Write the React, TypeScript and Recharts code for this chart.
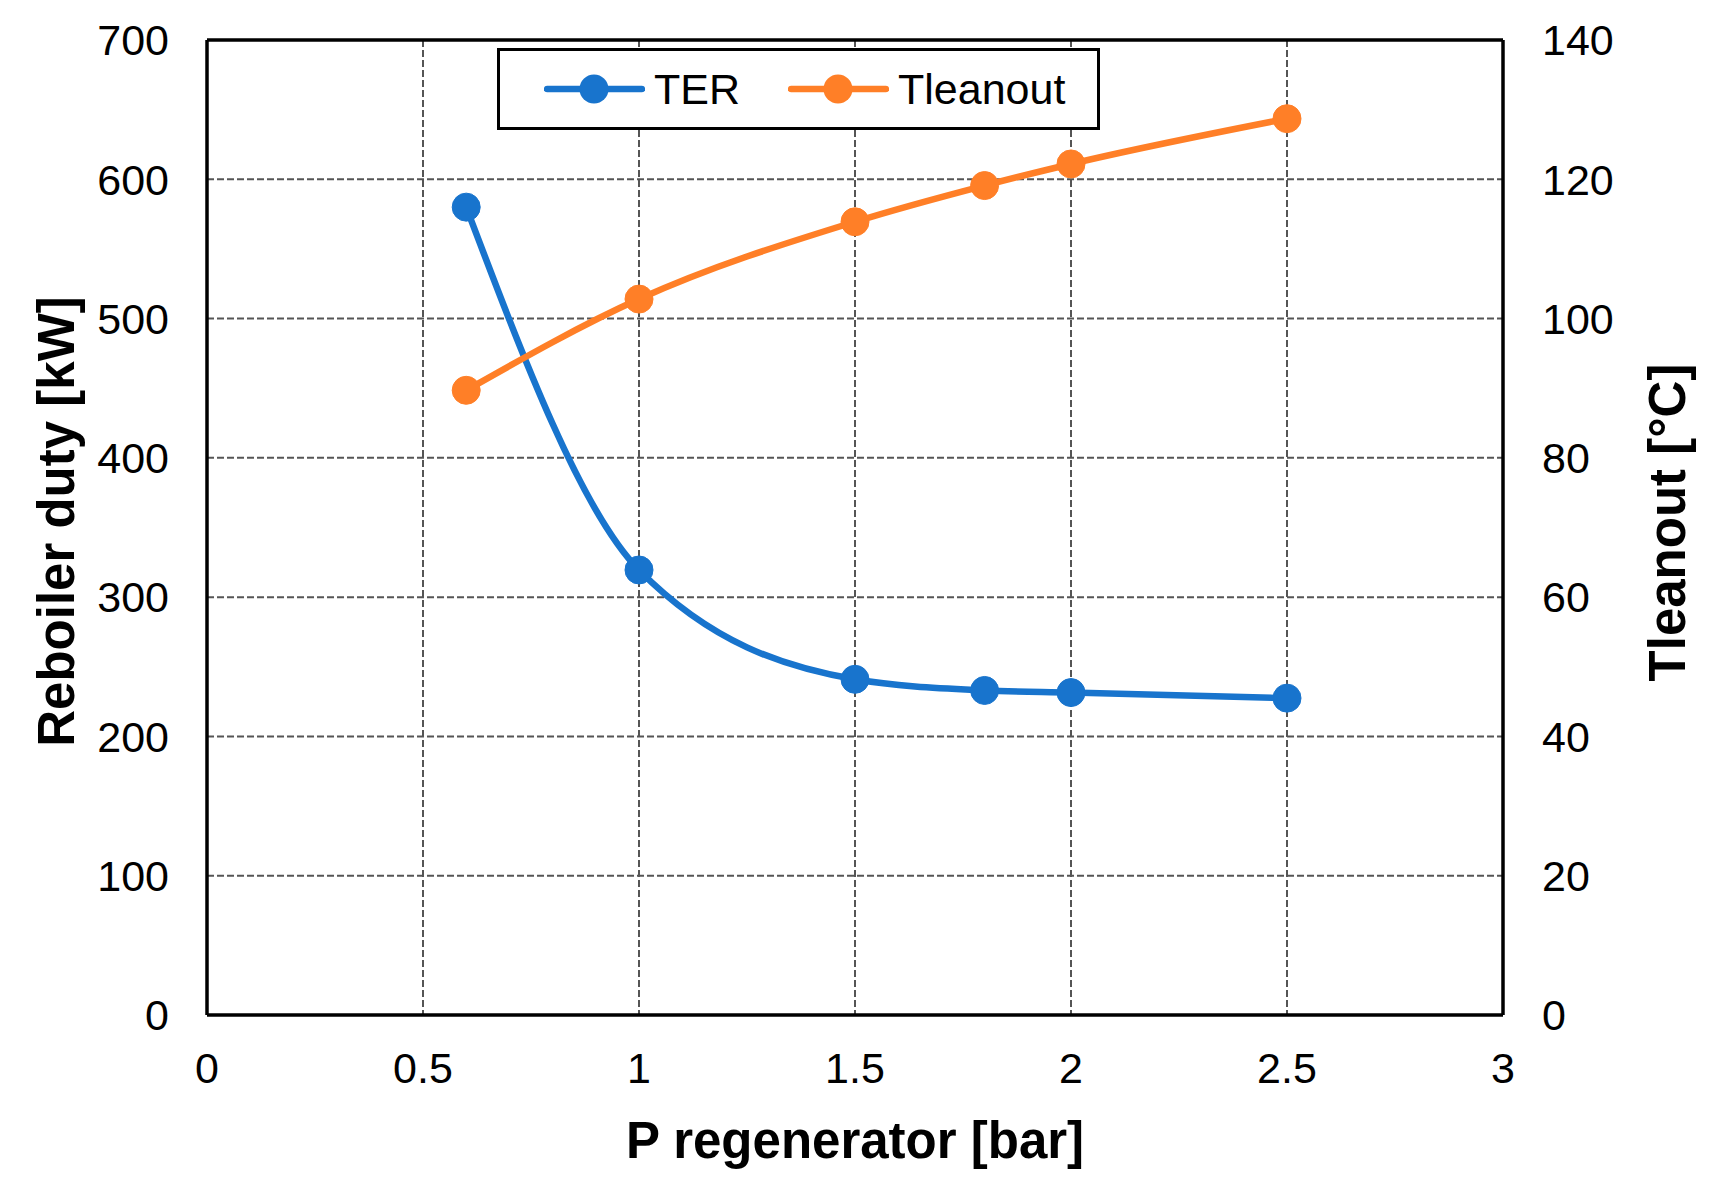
import React from 'react';
import {
  ComposedChart,
  Line,
  XAxis,
  YAxis,
  CartesianGrid,
  Legend,
  Label,
  ReferenceLine,
} from 'recharts';

// values
const pressure = [0.6, 1, 1.5, 1.8, 2, 2.5];
const terValues = [580, 319.5, 241, 233, 231.5, 227.5];
const tleanoutValues = [89.7, 102.8, 113.9, 119.1, 122.2, 128.7];

const xTicks = [0, 0.5, 1, 1.5, 2, 2.5, 3];
const leftTicks = [0, 100, 200, 300, 400, 500, 600, 700];
const rightTicks = [0, 20, 40, 60, 80, 100, 120, 140];

const BLUE = '#1874CD';
const ORANGE = '#FF7F27';
const FONT = '"Liberation Sans", Arial, sans-serif';

const data = pressure.map((p, i) => ({
  p,
  TER: terValues[i],
  Tleanout: tleanoutValues[i],
}));

const tickStyle = { fontSize: 43, fill: '#000', fontFamily: FONT };

const LegendBox = (props: any) => {
  const { payload = [] } = props;
  return (
    <div
      style={{
        width: 603,
        height: 82,
        boxSizing: 'border-box',
        border: '3.5px solid #000',
        background: '#fff',
        display: 'flex',
        alignItems: 'center',
        paddingLeft: 44,
        fontFamily: FONT,
        fontSize: 43,
        color: '#000',
      }}
    >
      {payload.map((entry: any, i: number) => (
        <div
          key={entry.value}
          style={{ display: 'flex', alignItems: 'center', marginRight: i === 0 ? 48 : 0 }}
        >
          <svg width={101} height={32}>
            <line x1={3} y1={16} x2={98} y2={16} stroke={entry.color} strokeWidth={6.5} strokeLinecap="round" />
            <circle cx={50} cy={16} r={14.5} fill={entry.color} />
          </svg>
          <span style={{ marginLeft: 9, lineHeight: 1 }}>{entry.value}</span>
        </div>
      ))}
    </div>
  );
};

const axisTitle = (text: string, dxFn: (vb: any) => number, dyFn: (vb: any) => number, angle: number) =>
  (props: any) => {
    const vb = props.viewBox || {};
    const cx = dxFn(vb);
    const cy = dyFn(vb);
    return (
      <text
        x={cx}
        y={cy}
        transform={angle ? `rotate(${angle}, ${cx}, ${cy})` : undefined}
        textAnchor="middle"
        dominantBaseline="central"
        style={{ fontFamily: FONT, fontSize: 51, fontWeight: 700, fill: '#000' }}
      >
        {text}
      </text>
    );
  };

export default function App() {
  return (
    <div style={{ position: 'absolute', left: 0, top: 0, background: '#fff' }}>
      <ComposedChart
        width={1710}
        height={1186}
        data={data}
        margin={{ top: 40, right: 57, bottom: 71, left: 57 }}
      >
        <CartesianGrid stroke="#555555" strokeWidth={2} strokeDasharray="7 3" />
        <XAxis
          dataKey="p"
          type="number"
          domain={[0, 3]}
          ticks={xTicks}
          height={100}
          tickLine={false}
          tickSize={0}
          tickMargin={37}
          axisLine={{ stroke: '#000', strokeWidth: 3.5 }}
          tick={tickStyle}
          interval={0}
        >
          <Label
            content={axisTitle(
              'P regenerator [bar]',
              (vb) => vb.x + vb.width / 2,
              (vb) => vb.y + 125,
              0,
            )}
          />
        </XAxis>
        <YAxis
          type="number"
          domain={[0, 700]}
          ticks={leftTicks}
          width={150}
          tickLine={false}
          tickSize={0}
          tickMargin={38}
          axisLine={{ stroke: '#000', strokeWidth: 3.5 }}
          tick={tickStyle}
          interval={0}
        >
          <Label
            content={axisTitle(
              'Reboiler duty [kW]',
              (vb) => vb.x - 1,
              (vb) => vb.y + vb.height / 2 - 6,
              -90,
            )}
          />
        </YAxis>
        <YAxis
          yAxisId="right"
          orientation="right"
          type="number"
          domain={[0, 140]}
          ticks={rightTicks}
          width={150}
          tickLine={false}
          tickSize={0}
          tickMargin={39}
          axisLine={{ stroke: '#000', strokeWidth: 3.5 }}
          tick={{ ...tickStyle, textAnchor: 'start' }}
          interval={0}
        >
          <Label
            content={axisTitle(
              'Tleanout [°C]',
              (vb) => vb.x + 164,
              (vb) => vb.y + vb.height / 2 - 5,
              -90,
            )}
          />
        </YAxis>
        {/* top edge of the plot frame */}
        <ReferenceLine y={700} stroke="#000" strokeWidth={3.5} />
        <Legend
          content={<LegendBox />}
          layout="horizontal"
          verticalAlign="middle"
          align="center"
          wrapperStyle={{ top: 48, left: 497, width: 603, height: 82 }}
        />
        <Line
          dataKey="TER"
          name="TER"
          type="monotone"
          stroke={BLUE}
          strokeWidth={6.5}
          dot={{ r: 14, fill: BLUE, stroke: BLUE, strokeWidth: 1 }}
          activeDot={false}
          isAnimationActive={false}
        />
        <Line
          dataKey="Tleanout"
          name="Tleanout"
          yAxisId="right"
          type="monotone"
          stroke={ORANGE}
          strokeWidth={6.5}
          dot={{ r: 14, fill: ORANGE, stroke: ORANGE, strokeWidth: 1 }}
          activeDot={false}
          isAnimationActive={false}
        />
      </ComposedChart>
    </div>
  );
}
